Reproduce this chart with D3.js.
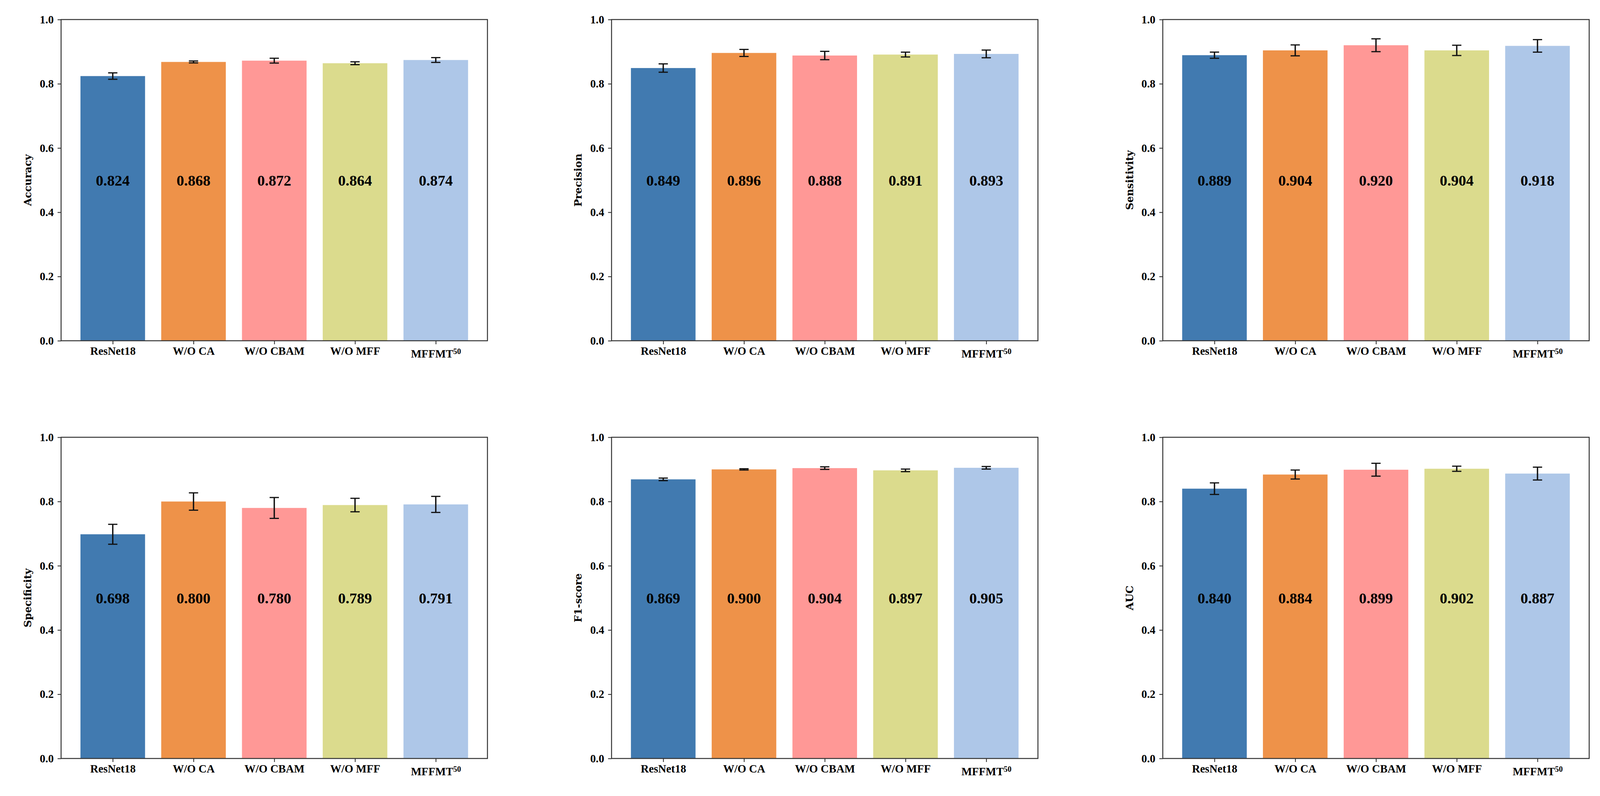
<!DOCTYPE html>
<html>
<head>
<meta charset="utf-8">
<script src="https://cdn.jsdelivr.net/npm/d3@7"></script>
<style>
  html, body { margin: 0; padding: 0; background: #fff; overflow: hidden; }
  svg { display: block; width: 100vw; height: 100vh; }
</style>
</head>
<body>
<svg id="canvas" viewBox="0 0 4139 2037" preserveAspectRatio="none"></svg>
<script>
let models = ["ResNet18", "W/O CA", "W/O CBAM", "W/O MFF", "MFFMT"]
let colors = ["#417ab0", "#ee9249", "#ff9896", "#dbdb8d", "#aec7e8"]
let yTicks = [0, 0.2, 0.4, 0.6, 0.8, 1.0]

let metrics = ["Accuracy", "Precision", "Sensitivity", "Specificity", "F1-score", "AUC"]

let accuracy = [0.824, 0.868, 0.872, 0.864, 0.874]
let accuracyErr = [0.010, 0.003, 0.0075, 0.0045, 0.0075]
let precision = [0.849, 0.896, 0.888, 0.891, 0.893]
let precisionErr = [0.013, 0.011, 0.013, 0.0075, 0.012]
let sensitivity = [0.889, 0.904, 0.920, 0.904, 0.918]
let sensitivityErr = [0.0096, 0.017, 0.020, 0.016, 0.0195]
let specificity = [0.698, 0.800, 0.780, 0.789, 0.791]
let specificityErr = [0.031, 0.027, 0.0325, 0.021, 0.025]
let f1 = [0.869, 0.900, 0.904, 0.897, 0.905]
let f1Err = [0.004, 0.002, 0.004, 0.004, 0.004]
let auc = [0.840, 0.884, 0.899, 0.902, 0.887]
let aucErr = [0.018, 0.014, 0.020, 0.008, 0.020]

let values = [accuracy, precision, sensitivity, specificity, f1, auc]
let errors = [accuracyErr, precisionErr, sensitivityErr, specificityErr, f1Err, aucErr]

let canvas = d3.select('#canvas')

// panel frames in the 4139x2037 layout (svg stretches to the window)
let panelLefts = [158, 1582, 3008]
let panelTops = [50, 1119]
let panelW = 1103
let panelH = 822
let tickFont = '"Liberation Serif", "Times New Roman", serif'

let drawPanel = (idx) => {
    let left = panelLefts[idx % 3]
    let top = panelTops[Math.floor(idx / 3)]
    let vals = values[idx]
    let errs = errors[idx]

    let x = d3.scaleLinear().domain([-0.64, 4.64]).range([0, panelW])
    let y = d3.scaleLinear().domain([0, 1]).range([panelH, 0])

    let g = canvas.append('g').attr('transform', `translate(${left},${top})`)

    // bars
    g.selectAll('rect.bar')
        .data(vals)
        .enter()
        .append('rect')
        .attr('class', 'bar')
        .attr('x', (d, i) => x(i - 0.4))
        .attr('width', x(0.8) - x(0))
        .attr('y', d => y(d))
        .attr('height', d => y(0) - y(d))
        .attr('fill', (d, i) => colors[i])

    // error bars
    let capHalf = 12
    let eb = g.selectAll('g.err')
        .data(vals)
        .enter()
        .append('g')
        .attr('class', 'err')
        .attr('stroke', '#111')
    eb.append('line')
        .attr('x1', (d, i) => x(i)).attr('x2', (d, i) => x(i))
        .attr('y1', (d, i) => y(d - errs[i])).attr('y2', (d, i) => y(d + errs[i]))
        .attr('stroke-width', 3.5)
    eb.append('line')
        .attr('x1', (d, i) => x(i) - capHalf).attr('x2', (d, i) => x(i) + capHalf)
        .attr('y1', (d, i) => y(d + errs[i])).attr('y2', (d, i) => y(d + errs[i]))
        .attr('stroke-width', 3)
    eb.append('line')
        .attr('x1', (d, i) => x(i) - capHalf).attr('x2', (d, i) => x(i) + capHalf)
        .attr('y1', (d, i) => y(d - errs[i])).attr('y2', (d, i) => y(d - errs[i]))
        .attr('stroke-width', 3)

    // value labels in the middle of the bars
    g.selectAll('text.val')
        .data(vals)
        .enter()
        .append('text')
        .attr('class', 'val')
        .attr('x', (d, i) => x(i))
        .attr('y', y(0.5))
        .attr('dy', '0.35em')
        .attr('text-anchor', 'middle')
        .style('font-family', tickFont)
        .style('font-weight', 'bold')
        .style('font-size', '39px')
        .attr('fill', '#000')
        .text(d => d.toFixed(3))

    // axes
    let yAxis = d3.axisLeft(y).tickValues(yTicks).tickFormat(d3.format('.1f'))
        .tickSizeInner(9).tickSizeOuter(0).tickPadding(10)
    let ya = g.append('g').call(yAxis)

    let xAxis = d3.axisBottom(x).tickValues([0, 1, 2, 3, 4]).tickFormat(i => models[i])
        .tickSizeInner(9).tickSizeOuter(0).tickPadding(6)
    let xa = g.append('g').attr('transform', `translate(0,${panelH})`).call(xAxis)

    ;[ya, xa].forEach(a => {
        a.select('.domain').remove()
        a.selectAll('line').attr('stroke', '#222').attr('stroke-width', 2)
        a.selectAll('text')
            .style('font-family', tickFont)
            .style('font-weight', 'bold')
            .style('font-size', '29px')
            .attr('fill', '#000')
    })

    // superscript on the last model label
    xa.selectAll('.tick text').filter(i => i === 4)
        .text(null)
        .attr('dy', '0.95em')
        .call(t => {
            t.append('tspan').text(models[4])
            t.append('tspan').text('50')
                .attr('dy', '-0.45em')
                .style('font-size', '20px')
        })

    // frame
    g.append('rect')
        .attr('x', 0).attr('y', 0)
        .attr('width', panelW).attr('height', panelH)
        .attr('fill', 'none')
        .attr('stroke', '#333')
        .attr('stroke-width', 2.5)

    // y label
    g.append('text')
        .attr('transform', `translate(-86,${panelH / 2}) rotate(-90)`)
        .attr('text-anchor', 'middle')
        .attr('dy', '0.35em')
        .style('font-family', '"DejaVu Serif", serif')
        .style('font-weight', 'bold')
        .style('font-size', '26px')
        .attr('fill', '#000')
        .text(metrics[idx])
}

metrics.forEach((m, i) => drawPanel(i))
</script>
</body>
</html>
